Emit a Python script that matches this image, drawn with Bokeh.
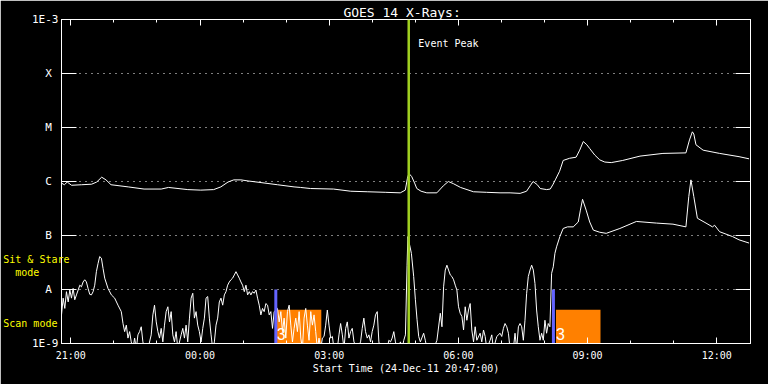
import pandas as pd
import numpy as np
from bokeh.plotting import figure
from bokeh.models import Range1d, FixedTicker, Label, DatetimeTickFormatter, DatetimeAxis, LogAxis, Span
from bokeh.embed import file_html
from bokeh.resources import INLINE

START = pd.Timestamp("2011-12-24 20:47:00")
SPAN_MINUTES = 960

# ---- data (minutes after start, log10 flux W/m^2) ----
long_t = [0, 4, 8, 14, 28, 42, 49, 56, 62, 69, 93, 115, 139, 149, 176, 194, 212, 222, 232, 240,
          250, 260, 278, 301, 324, 333, 347, 379, 403, 426, 451, 472, 479, 482, 484, 488, 492, 495,
          501, 509, 523, 532, 539, 546, 556, 574, 592, 611, 625, 639, 648, 653, 657, 663, 667, 676,
          681, 685, 688, 694, 699, 708, 717, 722, 727, 732, 736, 743, 750, 757, 766, 782, 806, 838,
          870, 875, 879, 881, 884, 894, 917, 944, 958]
long_log = [-6.03, -6.06, -6.01, -6.07, -6.06, -6.05, -6.01, -5.92, -5.97, -6.06, -6.10, -6.14, -6.14,
            -6.11, -6.15, -6.16, -6.15, -6.10, -6.01, -5.97, -5.97, -5.99, -6.02, -6.06, -6.10, -6.11,
            -6.13, -6.14, -6.18, -6.19, -6.20, -6.21, -6.16, -5.94, -5.85, -5.91, -6.03, -6.13, -6.18,
            -6.21, -6.21, -6.08, -6.00, -6.04, -6.11, -6.19, -6.20, -6.21, -6.21, -6.22, -6.18, -6.08,
            -6.00, -6.06, -6.13, -6.15, -6.14, -6.05, -5.97, -5.81, -5.61, -5.57, -5.55, -5.42, -5.26,
            -5.32, -5.39, -5.51, -5.60, -5.64, -5.65, -5.61, -5.53, -5.48, -5.47, -5.23, -5.08, -5.12,
            -5.32, -5.42, -5.48, -5.54, -5.58]

short_t = [0, 2.3, 4.6, 6.9, 9.3, 11.6, 13.9, 16.2, 18.5, 20.8, 23.2, 25.5, 27.8, 30.1, 32.4, 34.7,
           37.0, 39.4, 41.7, 44.0, 46.3, 48.6, 50.9, 53.2, 55.6, 57.9, 60.2, 64.8, 69.5, 74.1, 78.7,
           83.3, 85.7, 88.0, 90.3, 92.6, 94.9, 97.2, 99.5, 101.9, 104.2, 106.5, 108.8, 111.1, 113.4,
           115.8, 120.4, 125.0, 127.3, 129.6, 132.0, 134.3, 136.6, 138.9, 141.2, 143.5, 145.8, 148.2,
           150.5, 152.8, 155.1, 157.4, 159.7, 162.1, 166.7, 169.0, 171.3, 173.6, 175.9, 178.3, 180.6,
           182.9, 185.2, 187.5, 189.8, 192.1, 194.5, 196.8, 199.1, 201.4, 203.7, 206.0, 208.4, 210.7,
           213.0, 215.3, 217.6, 219.9, 222.2, 224.6, 226.9, 229.2, 231.5, 233.8, 236.1, 238.4, 240.8,
           243.1, 245.4, 247.7, 250.0, 252.3, 254.7, 257.0, 259.3, 261.6, 263.9, 266.2, 268.5, 270.9,
           273.2, 275.5, 277.8, 280.1, 282.4, 284.7, 287.1, 289.4, 291.7, 294.0, 296.3, 300.9,
           303.3, 305.6, 307.9, 310.2, 312.5, 314.8, 317.2, 319.5, 321.8, 324.1, 326.4, 328.7, 331.1,
           333.4, 335.7, 338.0, 340.3, 342.6, 344.9, 347.3, 349.6, 351.9, 354.2, 356.5, 358.8, 361.2,
           363.5, 365.8, 368.1, 370.4, 372.7, 375.0, 377.4, 379.7, 384.3, 386.6, 388.9, 391.3, 393.6,
           395.9, 398.2, 400.5, 402.8, 405.1, 407.5, 412.1, 416.7, 419.0, 421.3, 423.6, 426.0, 428.3,
           430.6, 432.9, 435.2, 437.5, 439.9, 442.2, 444.5, 449.1, 453.7, 456.1, 458.4, 460.7, 463.0,
           465.3, 467.6, 472.3, 474.6, 476.9, 479.2, 481.5, 482.6, 487.5, 490.7, 493.1, 495.4, 497.7,
           500.0, 504.6, 506.9, 509.2, 518.5, 523.1, 527.8, 530.1, 532.4, 534.7, 537.0, 539.3, 541.7,
           544.0, 546.3, 548.6, 550.9, 553.2, 555.5, 557.9, 560.2, 562.5, 564.8, 567.1, 569.4, 571.7,
           574.1, 576.4, 578.7, 583.3, 585.6, 588.0, 590.3, 592.6, 597.2, 599.5, 601.8, 606.5, 611.1,
           613.4, 615.7, 618.0, 620.4, 622.7, 625.0, 629.6, 631.9, 634.2, 636.6, 638.9, 641.2, 643.5,
           645.8, 648.1, 650.4, 652.8, 655.1, 657.4, 659.7, 662.0, 664.3, 666.7, 669.0, 671.3, 673.6,
           675.9, 678.2, 680.5, 682.9, 685.2, 687.5, 689.8, 694.4,
           699, 705, 713, 720, 723, 726, 731, 736, 741, 750, 759, 778, 801, 829, 852, 870, 874, 877,
           881, 886, 898, 907, 910, 917, 935, 944, 958]
short_log = [-8.47, -8.16, -8.35, -8.04, -8.23, -8.01, -8.16, -7.98, -8.19, -8.10, -8.01, -7.92, -7.95,
             -7.86, -7.82, -7.86, -7.98, -8.09, -8.10, -8.04, -7.92, -7.67, -7.52, -7.39, -7.42, -7.61,
             -7.79, -7.98, -8.10, -8.16, -8.29, -8.41, -8.63, -8.78, -8.66, -8.90, -8.78, -8.97, -9.1,
             -8.90, -9.1, -8.84, -8.78, -8.69, -8.97, -9.1, -9.1, -8.84, -8.47, -8.29, -8.60, -8.78,
             -8.90, -8.72, -8.97, -8.66, -8.41, -8.32, -8.60, -8.41, -8.84, -8.97, -8.78, -9.1, -8.84,
             -8.72, -8.90, -8.66, -8.97, -8.53, -8.16, -8.07, -8.53, -8.41, -8.66, -8.78, -8.97, -8.72,
             -8.53, -8.16, -8.13, -8.53, -8.84, -9.1, -8.97, -8.66, -8.53, -8.23, -8.16, -8.29, -8.10,
             -8.04, -7.92, -7.86, -7.82, -7.79, -7.73, -7.67, -7.73, -7.79, -7.86, -7.92, -8.04, -7.92,
             -8.10, -8.04, -8.10, -8.04, -8.07, -8.01, -8.16, -8.29, -8.47, -8.35, -8.41, -8.26, -8.29,
             -8.47, -8.41, -8.72, -8.41, -8.35,
             -8.60, -8.41, -8.78, -8.53, -8.90, -8.41, -8.29, -8.66, -8.97, -8.72, -8.53, -8.78, -8.41,
             -8.90, -9.1, -8.53, -8.35, -8.66, -8.94, -8.41, -8.66, -8.47, -8.78, -9.1, -8.90, -9.1,
             -8.90, -8.87, -8.66, -8.38, -8.66, -8.90, -8.87, -9.1, -9.1, -8.84, -8.63, -8.84, -9.1,
             -8.72, -8.60, -8.90, -8.78, -8.72, -8.97, -9.1, -8.97, -8.72, -8.53, -8.78, -8.90, -8.84,
             -8.97, -8.78, -8.66, -8.47, -8.41, -8.97, -9.1, -9.1, -9.1, -8.94, -8.97, -8.90, -8.78,
             -8.97, -9.1, -8.97, -9.1, -8.94, -8.84, -7.55, -7.02, -7.33, -7.76, -8.19, -8.56, -8.87,
             -8.97, -8.81, -8.94, -9.1, -9.1, -8.94, -8.44, -8.69, -7.95, -7.64, -7.55, -7.64, -7.73,
             -7.76, -7.82, -7.92, -8.01, -8.32, -8.44, -8.50, -8.75, -8.32, -8.57, -8.38, -8.26, -8.75,
             -8.97, -8.69, -8.94, -8.81, -8.97, -8.75, -8.87, -9.1, -8.94, -8.84, -9.1, -8.87, -8.81,
             -8.87, -8.72, -8.63, -8.69, -8.81, -9.1, -9.1, -8.81, -9.1, -8.69, -8.63, -8.69, -8.94,
             -8.57, -8.07, -7.76, -7.64, -7.55, -7.64, -7.89, -8.38, -8.69, -8.94, -8.81, -8.94, -8.57,
             -8.81, -8.63, -8.69, -7.70, -7.58, -7.33, -7.21, -7.02,
             -6.87, -6.84, -6.84, -6.75, -6.53, -6.33, -6.53, -6.75, -6.90, -6.94, -6.96, -6.87, -6.74,
             -6.77, -6.79, -6.84, -6.28, -5.97, -6.28, -6.68, -6.77, -6.84, -6.81, -6.93, -7.02, -7.08,
             -7.14]

event_peak_t = 483.8
mode_switch_t = [298.6, 685.4]
scan_start_t = [300, 689]
scan_end_t = [362, 751]
scan_top_flux = 4.2e-9
scan_labels = ["3", "3"]

y_tick_values = [1e-9, 1e-8, 1e-7, 1e-6, 1e-5, 1e-4, 1e-3]
y_tick_labels = ["1E-9", "A", "B", "C", "M", "X", "1E-3"]
mode_texts = ["Sit & Stare", "mode", "Scan mode"]
mode_text_flux = [3.67e-8, 2.07e-8, 2.34e-9]
x_major_times = pd.date_range("2011-12-24 21:00", periods=6, freq="3h")
x_minor_times = pd.date_range("2011-12-24 21:00", "2011-12-25 12:00", freq="1h")

TITLE = "GOES 14 X-Rays:"
X_LABEL = "Start Time (24-Dec-11 20:47:00)"


def ms(minutes):
    return (START + pd.Timedelta(minutes=float(minutes))).value / 1e6


def ts_ms(t):
    return pd.Timestamp(t).value / 1e6


FONT = "DejaVu Sans Mono"
NB = "\u00a0"

p = figure(width=768, height=384, x_axis_type="datetime", y_axis_type="log",
           x_range=Range1d(ms(0), ms(SPAN_MINUTES)), y_range=Range1d(1e-9, 1e-3),
           output_backend="svg", toolbar_location=None,
           min_border_left=60, min_border_right=18, min_border_top=19, min_border_bottom=41,
           background_fill_color="black", border_fill_color="black",
           outline_line_color="white", outline_line_width=1)

bottom_axis = p.below[0]
left_axis = p.left[0]
top_axis = DatetimeAxis()
p.add_layout(top_axis, "above")
right_axis = LogAxis()
p.add_layout(right_axis, "right")
mode_axis = LogAxis()
p.add_layout(mode_axis, "left")

major_ms = [ts_ms(t) for t in x_major_times]
minor_ms = [ts_ms(t) for t in x_minor_times]

for ax in [bottom_axis, top_axis]:
    ax.ticker = FixedTicker(ticks=major_ms, minor_ticks=minor_ms)
    ax.formatter = DatetimeTickFormatter(hours="%H:%M", days="%H:%M", hourmin="%H:%M",
                                         minutes="%H:%M", months="%H:%M", years="%H:%M",
                                         strip_leading_zeros=False)
    ax.major_tick_in = 6
    ax.major_tick_out = 0
    ax.minor_tick_in = 3
    ax.minor_tick_out = 0
    ax.axis_line_color = "white"
    ax.major_tick_line_color = "white"
    ax.minor_tick_line_color = "white"
    ax.axis_label_text_color = "white"
    ax.axis_label_text_font = FONT
    ax.axis_label_text_font_style = "normal"

bottom_axis.major_label_text_color = "white"
bottom_axis.major_label_text_font = FONT
bottom_axis.major_label_text_font_size = "10px"
bottom_axis.major_label_standoff = 6
bottom_axis.axis_label = X_LABEL
bottom_axis.axis_label_text_font_size = "10px"
bottom_axis.axis_label_standoff = -1

top_axis.major_label_text_font_size = "1px"
top_axis.major_label_text_color = None
top_axis.major_label_standoff = 0
top_axis.axis_label = TITLE + NB
top_axis.axis_label_text_font_size = "13px"
top_axis.axis_label_standoff = 0

for ax in [left_axis, right_axis]:
    ax.ticker = FixedTicker(ticks=y_tick_values, minor_ticks=[])
    ax.major_tick_in = 15
    ax.major_tick_out = 0
    ax.axis_line_color = "white"
    ax.major_tick_line_color = "white"

left_axis.major_label_overrides = {v: (lab if len(lab) > 1 else lab + NB)
                                   for v, lab in zip(y_tick_values, y_tick_labels)}
left_axis.major_label_text_color = "white"
left_axis.major_label_text_font = FONT
left_axis.major_label_text_font_size = "11px"
left_axis.major_label_standoff = 3

right_axis.major_label_text_font_size = "1px"
right_axis.major_label_text_color = None
right_axis.major_label_standoff = 0

# yellow observing-mode captions on an outer, line-less axis
mode_axis.ticker = FixedTicker(ticks=mode_text_flux, minor_ticks=[])
mode_axis.major_label_overrides = {
    v: ((NB * 2 + lab) if lab == "mode" else lab).ljust(11, NB)
    for v, lab in zip(mode_text_flux, mode_texts)}
mode_axis.axis_line_color = None
mode_axis.major_tick_line_color = None
mode_axis.minor_tick_line_color = None
mode_axis.major_tick_in = 0
mode_axis.major_tick_out = 0
mode_axis.major_label_text_color = "yellow"
mode_axis.major_label_text_font = FONT
mode_axis.major_label_text_font_size = "10px"
mode_axis.major_label_standoff = -40

p.xgrid.visible = False
p.ygrid.ticker = FixedTicker(ticks=y_tick_values[1:-1], minor_ticks=[])
p.ygrid.grid_line_color = "white"
p.ygrid.grid_line_dash = "1 5"
p.ygrid.grid_line_width = 1

# scan-mode boxes
p.quad(left=[ms(t) for t in scan_start_t], right=[ms(t) for t in scan_end_t],
       bottom=1e-9, top=scan_top_flux, fill_color="#ff8000", line_color=None)
p.text(x=[ms(t) for t in scan_start_t], y=[1.53e-9] * 2, text=scan_labels,
       text_color="white", text_font_size="16px", text_baseline="middle", text_align="left")

# curves
p.line([ms(t) for t in long_t], [10 ** v for v in long_log], line_color="white", line_width=1)
p.line([ms(t) for t in short_t], [10 ** v for v in short_log], line_color="white", line_width=1)

# mode switch markers
p.segment(x0=[ms(t) for t in mode_switch_t], x1=[ms(t) for t in mode_switch_t],
          y0=1e-9, y1=1e-8, line_color="#6464ff", line_width=3)

# event peak
p.add_layout(Span(location=ms(event_peak_t), dimension="height", line_color="#a0d020", line_width=2.5))
p.add_layout(Label(x=ms(497.2), y=3.6e-4, text="Event Peak", text_color="white", text_font=FONT,
                   text_font_size="10px", text_baseline="middle"))

open("out.html", "w").write(file_html(p, INLINE))
